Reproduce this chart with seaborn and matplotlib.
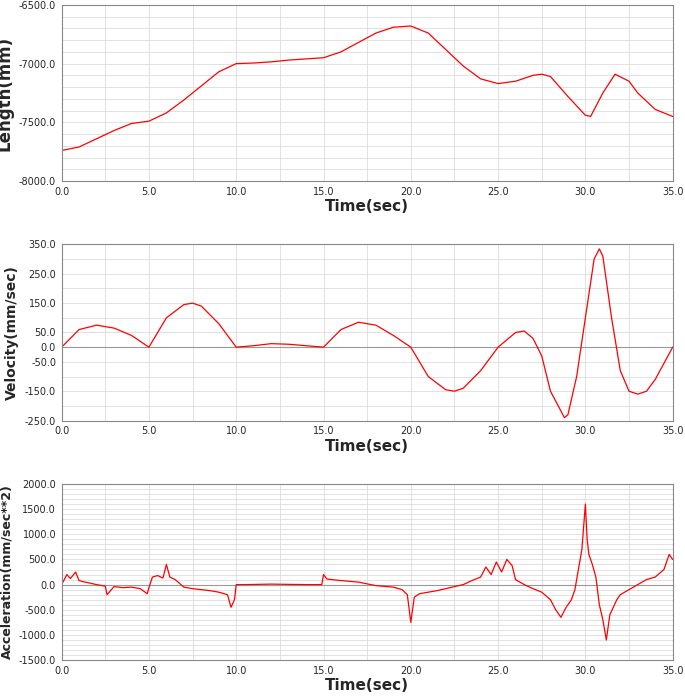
import matplotlib
matplotlib.use("Agg")
import matplotlib.pyplot as plt
import seaborn as sns
from matplotlib.ticker import MultipleLocator

len_t = [0,1,2,3,4,5,6,7,8,9,10,11,12,13,14,15,16,17,18,19,20,21,22,23,24,25,26,27,27.5,28,29,30,30.3,31,31.7,32.5,33,34,35]
len_v = [-7740,-7710,-7640,-7570,-7510,-7490,-7420,-7310,-7190,-7070,-7000,-6995,-6985,-6970,-6960,-6950,-6900,-6820,-6740,-6690,-6680,-6740,-6880,-7020,-7130,-7170,-7150,-7100,-7090,-7110,-7280,-7440,-7450,-7250,-7090,-7150,-7250,-7390,-7450]

vel_t = [0,1,2,3,4,5,6,7,7.5,8,9,10,11,12,13,14,15,16,17,18,19,20,21,22,22.5,23,24,25,26,26.5,27,27.5,28,28.8,29,29.5,30,30.5,30.8,31,31.5,32,32.5,33,33.5,34,35]
vel_v = [0,60,75,65,40,0,100,145,150,140,80,0,5,12,10,5,0,60,85,75,40,0,-100,-145,-150,-140,-80,0,50,55,30,-30,-150,-240,-230,-100,100,300,335,310,100,-80,-150,-160,-150,-110,0]

acc_t = [0,0.3,0.5,0.8,1.0,1.2,1.5,2,2.5,2.6,3,3.5,4,4.5,4.9,5.0,5.2,5.5,5.8,6.0,6.2,6.5,7,7.5,8,8.5,9,9.5,9.7,9.9,10,10.5,12,14,14.9,15.0,15.2,16,17,18,19,19.5,19.8,20.0,20.2,20.5,21,21.5,22,23,23.5,24,24.3,24.6,24.9,25.2,25.5,25.8,26,26.5,27,27.5,28,28.3,28.6,28.9,29.2,29.4,29.6,29.8,30.0,30.1,30.2,30.4,30.6,30.8,31.0,31.2,31.4,31.6,31.8,32.0,32.5,33,33.5,34,34.5,34.8,35]
acc_v = [0,200,120,250,80,60,40,0,-30,-200,-40,-60,-50,-80,-180,-60,150,180,130,400,150,100,-50,-80,-100,-120,-150,-200,-450,-300,0,0,10,0,0,200,110,80,50,-20,-50,-100,-200,-750,-250,-180,-150,-120,-80,0,80,150,350,200,450,250,500,380,100,0,-80,-150,-300,-500,-650,-450,-300,-100,300,700,1600,900,600,400,150,-400,-700,-1100,-600,-450,-300,-200,-100,0,100,150,300,600,500]

sns.set_style("white")
fig, axes = plt.subplots(3, 1, figsize=(6.85, 7.0), dpi=100)
plt.subplots_adjust(left=0.09, right=0.982, top=0.993, bottom=0.057, hspace=0.36)

specs = [
    (len_t, len_v, "Length(mm)", (-8000, -6500), 500, 100, 12),
    (vel_t, vel_v, "Velocity(mm/sec)", (-250, 350), None, 50, 10),
    (acc_t, acc_v, "Acceleration(mm/sec**2)", (-1500, 2000), 500, 100, 9),
]
for ax, (t, v, lab, yl, major, minor, fs) in zip(axes, specs):
    sns.lineplot(x=t, y=v, ax=ax, color="red", linewidth=0.9, estimator=None, sort=False)
    ax.set_xlim(0, 35)
    ax.set_ylim(*yl)
    ax.xaxis.set_major_locator(MultipleLocator(5))
    ax.xaxis.set_minor_locator(MultipleLocator(2.5))
    if major:
        ax.yaxis.set_major_locator(MultipleLocator(major))
    else:
        ax.set_yticks([-250, -150, -50, 0, 50, 150, 250, 350])
    ax.yaxis.set_minor_locator(MultipleLocator(minor))
    ax.grid(which="both", color="#dddddd", linewidth=0.6)
    ax.axhline(0, color="#999999", linewidth=0.8, zorder=1)
    ax.set_xticks(ax.get_xticks())
    ax.set_xticklabels([f"{x:.1f}" for x in ax.get_xticks()], fontsize=7)
    ax.set_yticks(ax.get_yticks())
    ax.set_yticklabels([f"{y:.1f}" for y in ax.get_yticks()], fontsize=7)
    ax.set_xlim(0, 35)
    ax.set_ylim(*yl)
    ax.set_xlabel("Time(sec)", fontsize=11, fontweight="bold", labelpad=2)
    ax.set_ylabel(lab, fontsize=fs, fontweight="bold")
    for s in ax.spines.values():
        s.set_color("#888888")
        s.set_linewidth(0.8)
    ax.tick_params(length=2, pad=2)

fig.savefig("out.png", dpi=100)
